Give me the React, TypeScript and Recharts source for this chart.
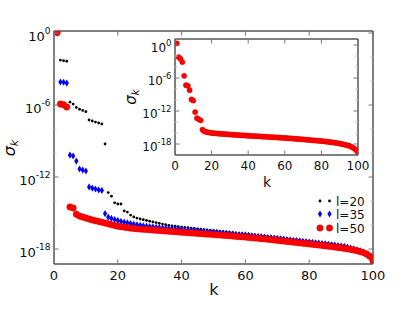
import React from "react";
import { ScatterChart, Scatter, XAxis, YAxis } from "recharts";

// log10 of sigma_k, k = 1..100
const l20Exp = [
  0.0, -2.25, -2.3, -2.35, -5.76, -5.92, -6.2, -6.35, -6.45, -6.55,
  -7.25, -7.33, -7.42, -7.5, -7.58, -9.25, -13.3, -13.6, -14.15, -14.25,
  -14.25, -14.83, -14.92, -15.17, -15.33, -15.42, -15.5, -15.56, -15.62, -15.68,
  -15.74, -15.8, -15.86, -15.92, -15.98, -16.03, -16.07, -16.1, -16.14, -16.17,
  -16.2, -16.23, -16.26, -16.29, -16.32, -16.35, -16.38, -16.41, -16.44, -16.47,
  -16.5, -16.53, -16.56, -16.58, -16.61, -16.64, -16.67, -16.7, -16.72, -16.75,
  -16.78, -16.81, -16.84, -16.87, -16.9, -16.93, -16.96, -16.99, -17.02, -17.05,
  -17.08, -17.11, -17.14, -17.17, -17.2, -17.23, -17.26, -17.29, -17.32, -17.35,
  -17.38, -17.41, -17.44, -17.47, -17.5, -17.53, -17.56, -17.6, -17.64, -17.68,
  -17.73, -17.8, -17.87, -17.95, -18.03, -18.12, -18.24, -18.4, -18.6, -18.9,
];

const l35Exp = [
  0.0, -4.08, -4.1, -4.17, -10.17, -10.25, -10.67, -11.33, -11.42, -11.5,
  -12.83, -12.92, -13.0, -13.08, -13.12, -15.05, -15.35, -15.45, -15.55, -15.62,
  -15.7, -15.76, -15.82, -15.88, -15.93, -15.98, -16.02, -16.06, -16.1, -16.13,
  -16.16, -16.19, -16.21, -16.24, -16.26, -16.29, -16.31, -16.33, -16.36, -16.38,
  -16.4, -16.42, -16.45, -16.47, -16.49, -16.51, -16.54, -16.56, -16.58, -16.6,
  -16.63, -16.65, -16.67, -16.7, -16.72, -16.75, -16.77, -16.8, -16.82, -16.85,
  -16.87, -16.9, -16.93, -16.95, -16.98, -17.01, -17.04, -17.06, -17.09, -17.12,
  -17.15, -17.18, -17.21, -17.24, -17.27, -17.3, -17.33, -17.36, -17.39, -17.42,
  -17.45, -17.48, -17.51, -17.55, -17.58, -17.61, -17.65, -17.68, -17.72, -17.76,
  -17.8, -17.86, -17.92, -17.99, -18.07, -18.16, -18.28, -18.44, -18.64, -18.95,
];

const l50Exp = [
  0.05, -5.92, -5.98, -6.17, -14.5, -14.58, -15.1, -15.25, -15.33, -15.42,
  -15.5, -15.58, -15.65, -15.71, -15.77, -15.83, -15.9, -15.97, -16.04, -16.1,
  -16.14, -16.18, -16.22, -16.26, -16.29, -16.32, -16.34, -16.36, -16.38, -16.4,
  -16.42, -16.44, -16.46, -16.48, -16.5, -16.52, -16.54, -16.56, -16.58, -16.6,
  -16.62, -16.64, -16.66, -16.68, -16.7, -16.72, -16.74, -16.76, -16.78, -16.8,
  -16.82, -16.84, -16.86, -16.88, -16.9, -16.92, -16.95, -16.97, -16.99, -17.01,
  -17.04, -17.06, -17.09, -17.11, -17.14, -17.16, -17.19, -17.22, -17.25, -17.28,
  -17.31, -17.34, -17.37, -17.4, -17.43, -17.46, -17.49, -17.52, -17.55, -17.58,
  -17.61, -17.64, -17.67, -17.7, -17.74, -17.77, -17.8, -17.84, -17.87, -17.91,
  -17.95, -17.99, -18.04, -18.09, -18.15, -18.22, -18.3, -18.42, -18.6, -18.98,
];

const insetExp = [
  0.3, -2.2, -2.5, -3.1, -5.6, -7.3, -7.4, -8.2, -9.9, -10.1,
  -12.2, -13.3, -13.5, -13.7, -15.4, -15.7, -15.8, -15.87, -15.93, -16.0,
  -16.03, -16.06, -16.09, -16.12, -16.14, -16.17, -16.2, -16.22, -16.25, -16.27,
  -16.3, -16.32, -16.35, -16.37, -16.39, -16.41, -16.43, -16.45, -16.48, -16.5,
  -16.52, -16.54, -16.56, -16.58, -16.6, -16.62, -16.64, -16.66, -16.68, -16.7,
  -16.72, -16.74, -16.76, -16.78, -16.8, -16.82, -16.84, -16.86, -16.88, -16.9,
  -16.92, -16.95, -16.98, -17.0, -17.03, -17.06, -17.08, -17.11, -17.14, -17.17,
  -17.2, -17.23, -17.26, -17.29, -17.32, -17.35, -17.38, -17.41, -17.43, -17.46,
  -17.5, -17.54, -17.58, -17.62, -17.66, -17.7, -17.75, -17.8, -17.86, -17.92,
  -17.99, -18.07, -18.15, -18.22, -18.3, -18.45, -18.62, -18.82, -19.1, -19.6,
];

const xTicks = [0, 20, 40, 60, 80, 100];
const yTickExps = [0, -2, -4, -6, -8, -10, -12, -14, -16, -18];
const labelledExps = [0, -6, -12, -18];

const FONT = "DejaVu Sans, sans-serif";

const toPoints = (exps: number[]) => exps.map((e, i) => ({ k: i + 1, s: Math.pow(10, e) }));
const yTicks = yTickExps.map((e) => Math.pow(10, e));

interface TickProps {
  x?: number;
  y?: number;
  payload?: { value: number };
}

const makeYTick =
  (side: "left" | "right", labels: boolean, fontSize: number, expSize: number) =>
  ({ x = 0, y = 0, payload }: TickProps) => {
    if (!payload) return null;
    const e = Math.round(Math.log10(payload.value));
    const major = labelledExps.includes(e);
    const len = major ? 4.5 : 2.5;
    const dir = side === "left" ? 1 : -1;
    return (
      <g>
        <line x1={x} x2={x + dir * len} y1={y} y2={y} stroke={major ? "#777" : "#bbb"} />
        {labels && major && (
          <text x={x - 3.5} y={y + fontSize * 0.6} textAnchor="end" fontSize={fontSize} fontFamily={FONT} fill="#111">
            10
            <tspan dy={-fontSize * 0.55} fontSize={expSize}>
              {e === 0 ? "0" : "-" + Math.abs(e)}
            </tspan>
          </text>
        )}
      </g>
    );
  };

const makeXTick =
  (side: "bottom" | "top", labels: boolean, fontSize: number) =>
  ({ x = 0, y = 0, payload }: TickProps) => {
    if (!payload) return null;
    const dir = side === "bottom" ? -1 : 1;
    return (
      <g>
        <line x1={x} x2={x} y1={y} y2={y + dir * 4.5} stroke="#777" />
        {labels && (
          <text x={x} y={y + fontSize + 3} textAnchor="middle" fontSize={fontSize} fontFamily={FONT} fill="#111">
            {payload.value}
          </text>
        )}
      </g>
    );
  };

const Dot = ({ cx, cy }: { cx?: number; cy?: number }) =>
  cx == null || cy == null ? null : <circle cx={cx} cy={cy} r={1.4} fill="#000" />;

const Diamond = ({ cx, cy }: { cx?: number; cy?: number }) =>
  cx == null || cy == null ? null : (
    <polygon
      points={`${cx},${cy - 3.6} ${cx + 2.1},${cy} ${cx},${cy + 3.6} ${cx - 2.1},${cy}`}
      fill="#0000ff"
    />
  );

const RedCircle = ({ cx, cy, r = 3.2 }: { cx?: number; cy?: number; r?: number }) =>
  cx == null || cy == null ? null : <circle cx={cx} cy={cy} r={r} fill="#ff0000" stroke="#e00000" strokeWidth={0.5} />;

// draws nothing; only binds the top / right frame axes to data
const Nothing = () => <g />;

const frame = { stroke: "#000", strokeWidth: 1 };

interface PanelProps {
  margin: { top: number; right: number; bottom: number; left: number };
  yWidth: number;
  xHeight: number;
  domain: number[];
  fontSize: number;
  expSize: number;
  children: React.ReactNode;
  frameData: { k: number; s: number }[];
}

// top axis is 1px tall and right axis 1px wide: a 0-sized axis is not drawn at all
function Panel({ margin, yWidth, xHeight, domain, fontSize, expSize, children, frameData }: PanelProps) {
  return (
    <ScatterChart width={415} height={312} margin={margin}>
      <XAxis
        xAxisId="b"
        type="number"
        dataKey="k"
        domain={[0, 100]}
        ticks={xTicks}
        allowDataOverflow
        height={xHeight}
        tickSize={0}
        tickMargin={0}
        tickLine={false}
        axisLine={frame}
        interval={0}
        tick={makeXTick("bottom", true, fontSize)}
      />
      <XAxis
        xAxisId="t"
        orientation="top"
        type="number"
        dataKey="k"
        domain={[0, 100]}
        ticks={xTicks}
        allowDataOverflow
        height={1}
        tickSize={0}
        tickMargin={0}
        tickLine={false}
        axisLine={frame}
        interval={0}
        tick={makeXTick("top", false, fontSize)}
      />
      <YAxis
        yAxisId="l"
        type="number"
        dataKey="s"
        scale="log"
        domain={domain}
        allowDataOverflow
        ticks={yTicks}
        width={yWidth}
        tickSize={0}
        tickMargin={0}
        tickLine={false}
        axisLine={frame}
        interval={0}
        tick={makeYTick("left", true, fontSize, expSize)}
      />
      <YAxis
        yAxisId="r"
        orientation="right"
        type="number"
        dataKey="s"
        scale="log"
        domain={domain}
        allowDataOverflow
        ticks={yTicks}
        width={1}
        tickSize={0}
        tickMargin={0}
        tickLine={false}
        axisLine={frame}
        interval={0}
        tick={makeYTick("right", false, fontSize, expSize)}
      />
      <Scatter xAxisId="t" yAxisId="r" data={frameData} shape={<Nothing />} isAnimationActive={false} />
      {children}
    </ScatterChart>
  );
}

export default function App() {
  const mainDomain = [Math.pow(10, -19.25), Math.pow(10, 0.17)];
  const insetDomain = [Math.pow(10, -20), Math.pow(10, 1.1)];
  const l20 = toPoints(l20Exp);
  const l35 = toPoints(l35Exp);
  const l50 = toPoints(l50Exp);
  const inset = toPoints(insetExp);

  return (
    <div style={{ position: "absolute", left: 0, top: 0, width: 415, height: 312, background: "#fff" }}>
      <div style={{ position: "absolute", left: 0, top: 0 }}>
        <Panel
          margin={{ top: 30, right: 41, bottom: 0, left: 0 }}
          yWidth={54}
          xHeight={48}
          domain={mainDomain}
          fontSize={13}
          expSize={9}
          frameData={l50}
        >
          <Scatter xAxisId="b" yAxisId="l" data={l20} shape={<Dot />} isAnimationActive={false} />
          <Scatter xAxisId="b" yAxisId="l" data={l35} shape={<Diamond />} isAnimationActive={false} />
          <Scatter xAxisId="b" yAxisId="l" data={l50} shape={<RedCircle />} isAnimationActive={false} />
        </Panel>
      </div>

      {/* inset */}
      <div style={{ position: "absolute", left: 0, top: 0 }}>
        <Panel
          margin={{ top: 38, right: 56, bottom: 127, left: 125 }}
          yWidth={50}
          xHeight={30}
          domain={insetDomain}
          fontSize={12}
          expSize={8.5}
          frameData={inset}
        >
          <Scatter xAxisId="b" yAxisId="l" data={inset} shape={<RedCircle r={2.6} />} isAnimationActive={false} />
        </Panel>
      </div>

      {/* axis titles and legend */}
      <svg width={415} height={312} style={{ position: "absolute", left: 0, top: 0, pointerEvents: "none" }}>
        <g fontFamily={FONT} fill="#111">
          <text x={214} y={295} textAnchor="middle" fontSize={16}>k</text>
          <text x={267} y={187} textAnchor="middle" fontSize={14}>k</text>
          <text transform="translate(15,148) rotate(-90)" textAnchor="middle" fontSize={16} fontStyle="italic">
            σ<tspan dy={3} fontSize={11}>k</tspan>
          </text>
          <text transform="translate(136,97) rotate(-90)" textAnchor="middle" fontSize={15} fontStyle="italic">
            σ<tspan dy={3} fontSize={10}>k</tspan>
          </text>

          <Dot cx={320} cy={201} />
          <Dot cx={329.5} cy={201} />
          <text x={336} y={205.5} fontSize={12}>l=20</text>
          <Diamond cx={320} cy={214} />
          <Diamond cx={329.5} cy={214} />
          <text x={336} y={218.5} fontSize={12}>l=35</text>
          <RedCircle cx={320} cy={228} />
          <RedCircle cx={329.5} cy={228} />
          <text x={336} y={232.5} fontSize={12}>l=50</text>
        </g>
      </svg>
    </div>
  );
}
